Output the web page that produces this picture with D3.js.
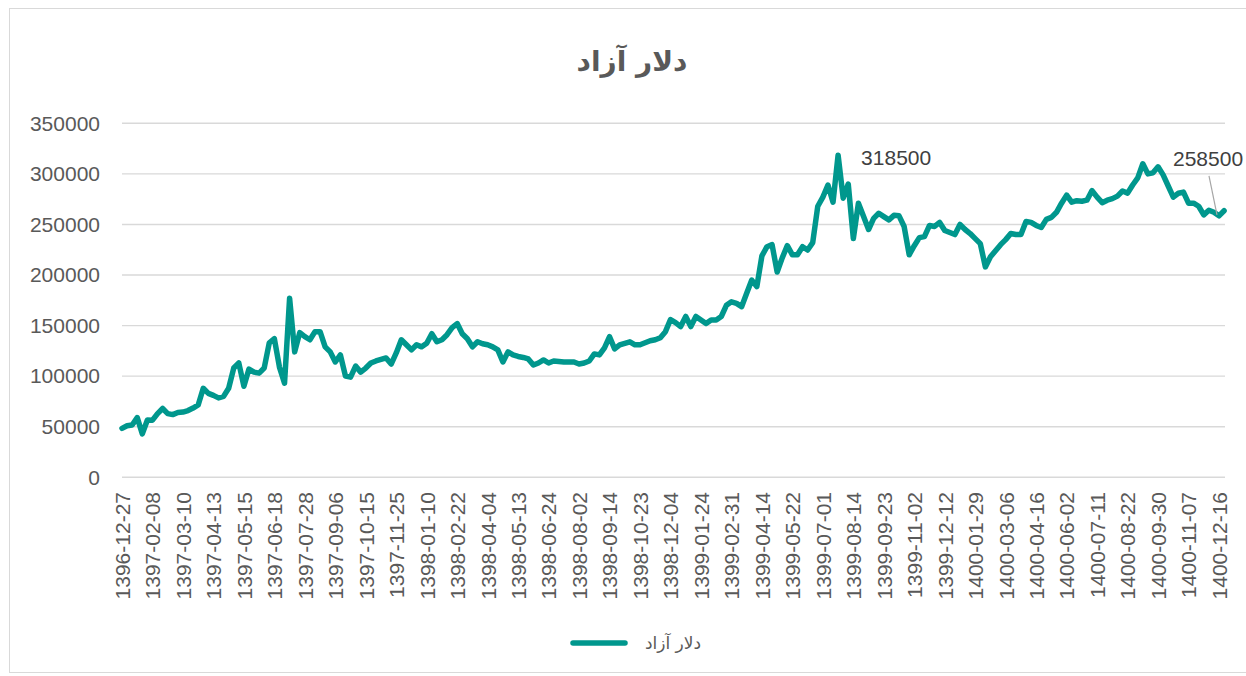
<!DOCTYPE html>
<html>
<head>
<meta charset="utf-8">
<script src="https://cdn.jsdelivr.net/npm/d3@7"></script>
<style>
  html, body { margin: 0; padding: 0; background: #fff; }
  svg { display: block; }
</style>
</head>
<body>
<svg id="chart" width="1246" height="676"></svg>
<script>
// chart title / series name
var seriesName = "دلار آزاد"

// tick labels on the category axis, one every 6 points
var tickLabels = [
  "1396-12-27", "1397-02-08", "1397-03-10", "1397-04-13", "1397-05-15", "1397-06-18",
  "1397-07-28", "1397-09-06", "1397-10-15", "1397-11-25", "1398-01-10", "1398-02-22",
  "1398-04-04", "1398-05-13", "1398-06-24", "1398-08-02", "1398-09-14", "1398-10-23",
  "1398-12-04", "1399-01-24", "1399-02-31", "1399-04-14", "1399-05-22", "1399-07-01",
  "1399-08-14", "1399-09-23", "1399-11-02", "1399-12-12", "1400-01-29", "1400-03-06",
  "1400-04-16", "1400-06-02", "1400-07-11", "1400-08-22", "1400-09-30", "1400-11-07",
  "1400-12-16"
]
var labelEvery = 6

// price values
var values = [
  48400, 51000, 51700, 59000, 43000, 56600, 56500, 63000, 68000, 63000,
  62000, 64000, 64500, 66000, 68500, 71500, 88000, 83000, 81000, 78500,
  80000, 88000, 108000, 113000, 90000, 107000, 104000, 103000, 108000, 133000,
  137000, 109000, 93000, 177000, 124000, 143000, 139000, 136000, 144000, 144000,
  129000, 124000, 114000, 121000, 100000, 99000, 110000, 104000, 108000, 113000,
  115000, 116500, 118000, 112000, 123000, 136000, 131000, 126000, 131000, 129000,
  132500, 142000, 134000, 136000, 141000, 148000, 152000, 142000, 137000, 129000,
  134000, 132000, 131000, 129000, 126000, 114000, 124000, 121000, 119500, 118500,
  117000, 111000, 113000, 116000, 113000, 115000, 114500, 114000, 114000, 114000,
  112000, 113000, 115000, 122000, 121000, 128000, 139000, 127000, 131000, 132500,
  134000, 131000, 131000, 133000, 135000, 136000, 138000, 144000, 156000, 153000,
  149000, 159000, 149000, 159000, 155500, 152000, 155500, 155500, 159000, 170000,
  173500, 172000, 168700, 182000, 195000, 188500, 219000, 228000, 230000, 203000,
  217000, 229000, 220000, 220000, 228000, 224700, 232000, 268000, 277000, 289000,
  272000, 318500, 276000, 290000, 236000, 271000, 258000, 245000, 256000, 261000,
  257700, 254500, 259000, 258500, 248000, 220000, 229000, 237000, 238000, 249000,
  248000, 252000, 244000, 242000, 240000, 250000, 245000, 241000, 236000, 231000,
  208000, 218000, 224000, 230000, 235000, 241000, 240000, 240000, 253000, 252000,
  249000, 247000, 255000, 257000, 262000, 271000, 279000, 272000, 273500, 273000,
  274000, 283500, 277000, 271500, 274000, 275500, 278000, 283000, 281000, 289000,
  296000, 310000, 300000, 301000, 307000, 299000, 288000, 277000, 280800, 282000,
  271000, 271000, 268000, 259500, 264000, 262000, 258500, 263500
]

var yTicks = [0, 50000, 100000, 150000, 200000, 250000, 300000, 350000]

// points that carry a data label
var labelledPoints = [141, 216]

var lineColor = "#00978d"
var textColor = "#595959"
var gridColor = "#d9d9d9"
var tickFont = "'Liberation Sans', Arial, sans-serif"
var arabicFont = "'DejaVu Sans', sans-serif"

var svg = d3.select("#chart")

// chart area border
svg.append("rect")
  .attr("x", 9.5).attr("y", 8.5)
  .attr("width", 1250).attr("height", 664)
  .attr("fill", "#fff")
  .attr("stroke", gridColor)
  .attr("stroke-width", 1)

var x = d3.scaleLinear()
  .domain([0, (tickLabels.length - 1) * labelEvery])
  .range([122, 1219])

var y = d3.scaleLinear()
  .domain([0, 350000])
  .range([477.3, 123.3])

// horizontal gridlines
svg.append("g")
  .selectAll("line")
  .data(yTicks)
  .enter()
  .append("line")
  .attr("x1", 122)
  .attr("x2", 1225)
  .attr("y1", d => y(d))
  .attr("y2", d => y(d))
  .attr("stroke", gridColor)
  .attr("stroke-width", 1.4)

// y axis labels
var yAxis = d3.axisLeft(y).tickValues(yTicks).tickSize(0).tickPadding(0).tickFormat(d3.format("d"))
svg.append("g")
  .attr("transform", "translate(100,0)")
  .call(yAxis)
  .call(g => g.select(".domain").remove())
  .selectAll("text")
  .attr("fill", textColor)
  .attr("font-size", 21)
  .attr("font-family", tickFont)

// x axis labels (rotated)
var tickIdx = tickLabels.map((t, i) => i * labelEvery)
var xAxis = d3.axisBottom(x).tickValues(tickIdx).tickSize(0).tickFormat((d, i) => tickLabels[i])
svg.append("g")
  .attr("transform", "translate(0,492)")
  .call(xAxis)
  .call(g => g.select(".domain").remove())
  .selectAll("text")
  .attr("fill", textColor)
  .attr("font-size", 21)
  .attr("font-family", tickFont)
  .attr("text-anchor", "end")
  .attr("transform", "rotate(-90)")
  .attr("x", 0)
  .attr("y", 0)
  .attr("dx", 0)
  .attr("dy", "0.35em")

// series line
var line = d3.line()
  .x((d, i) => x(i))
  .y(d => y(d))

svg.append("path")
  .datum(values)
  .attr("d", line)
  .attr("fill", "none")
  .attr("stroke", lineColor)
  .attr("stroke-width", 5.5)
  .attr("stroke-linejoin", "round")
  .attr("stroke-linecap", "round")

// data labels
var maxLabel = labelledPoints[0]
svg.append("text")
  .attr("x", x(maxLabel) + 23)
  .attr("y", y(values[maxLabel]) + 10)
  .attr("fill", "#404040")
  .attr("font-size", 21)
  .attr("font-family", tickFont)
  .text(values[maxLabel])

var lastLabel = labelledPoints[1]
svg.append("line")
  .attr("x1", x(lastLabel) - 10)
  .attr("y1", y(values[lastLabel]) - 40)
  .attr("x2", x(lastLabel) - 2)
  .attr("y2", y(values[lastLabel]) - 1)
  .attr("stroke", "#a6a6a6")
  .attr("stroke-width", 1.2)
svg.append("text")
  .attr("x", x(lastLabel) - 46)
  .attr("y", y(values[lastLabel]) - 50)
  .attr("fill", "#404040")
  .attr("font-size", 21)
  .attr("font-family", tickFont)
  .text(values[lastLabel])

// title
svg.append("text")
  .attr("x", 632)
  .attr("y", 71)
  .attr("text-anchor", "middle")
  .attr("fill", textColor)
  .attr("font-size", 28)
  .attr("font-weight", "bold")
  .attr("font-family", arabicFont)
  .text(seriesName)

// legend
svg.append("line")
  .attr("x1", 573).attr("x2", 625)
  .attr("y1", 643).attr("y2", 643)
  .attr("stroke", lineColor)
  .attr("stroke-width", 5.5)
  .attr("stroke-linecap", "round")
svg.append("text")
  .attr("x", 701)
  .attr("y", 649)
  .attr("text-anchor", "end")
  .attr("fill", textColor)
  .attr("font-size", 17)
  .attr("font-family", arabicFont)
  .text(seriesName)
</script>
</body>
</html>
